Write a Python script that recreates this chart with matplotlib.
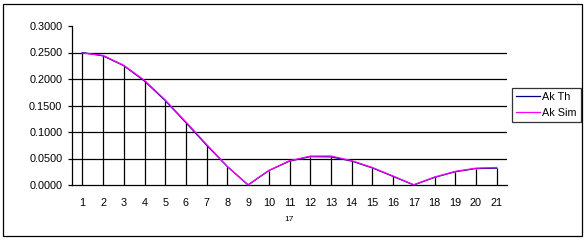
import numpy as np
import matplotlib.pyplot as plt
from matplotlib.patches import Rectangle

plt.rcParams['font.family'] = ['Liberation Sans', 'DejaVu Sans']

# Datos
k = list(range(1, 22))
ak_th = [0.2500, 0.2436, 0.2251, 0.1961, 0.1592, 0.1176, 0.0750, 0.0348, 0.0000, 0.0271,
         0.0450, 0.0535, 0.0531, 0.0452, 0.0322, 0.0162, 0.0000, 0.0143, 0.0250, 0.0310, 0.0318]
ak_sim = [0.2490, 0.2446, 0.2258, 0.1975, 0.1605, 0.1190, 0.0765, 0.0350, 0.0005, 0.0275,
          0.0458, 0.0545, 0.0548, 0.0460, 0.0330, 0.0170, 0.0005, 0.0150, 0.0258, 0.0318, 0.0330]
y_ticks = [0.0, 0.05, 0.10, 0.15, 0.20, 0.25, 0.30]

fig = plt.figure(figsize=(5.88, 2.40), dpi=100)
ax = fig.add_axes([72/588, 1 - 185/240, 435/588, 159/240])

# lineas de cuadricula
for yv in y_ticks[1:-1]:
    ax.axhline(yv, color='black', lw=0.9, zorder=1)

ax.vlines(k, 0, ak_th, color='black', lw=0.9, zorder=2)
l1, = ax.plot(k, ak_th, color='#000080', lw=0.9, zorder=3, label='Ak Th')
l2, = ax.plot(k, ak_sim, color='#FF00FF', lw=0.9, zorder=4, label='Ak Sim')

ax.set_xlim(0.5, 21.5)
ax.set_ylim(0, 0.3)
ax.set_yticks(y_ticks)
ax.set_yticklabels(['%.4f' % v for v in y_ticks], fontsize=7.8)
ax.set_xticks(k)
ax.set_xticklabels([str(v) for v in k], fontsize=7.8)
ax.tick_params(axis='x', length=0, pad=9)
ax.tick_params(axis='y', length=3, width=0.9, pad=4)
for s in ['top', 'right']:
    ax.spines[s].set_visible(False)
for s in ['left', 'bottom']:
    ax.spines[s].set_color('black')
    ax.spines[s].set_linewidth(0.9)
ax.set_xlabel('17', fontsize=6, labelpad=6)

leg = fig.legend(handles=[l1, l2], loc='center left',
                 bbox_to_anchor=(512/588, 1 - 105/240), fontsize=7.8,
                 frameon=True, fancybox=False, handlelength=2.2,
                 handletextpad=0.2, borderpad=0.4, labelspacing=0.5,
                 borderaxespad=0)
leg.get_frame().set_edgecolor('black')
leg.get_frame().set_linewidth(0.9)

fig.patches.append(Rectangle((3/588, 4/240), 579/588, 232/240, transform=fig.transFigure,
                             fill=False, edgecolor='black', lw=0.9))

plt.savefig('out.png', dpi=100)
